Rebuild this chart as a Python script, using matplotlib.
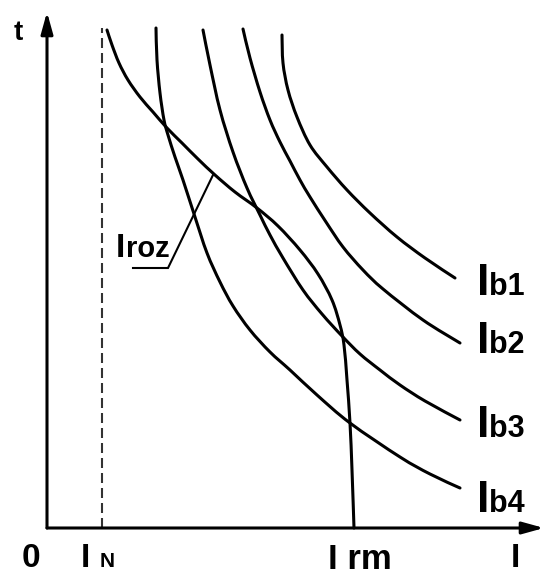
import matplotlib
matplotlib.use("Agg")
import matplotlib.pyplot as plt
from matplotlib.path import Path
from matplotlib.patches import PathPatch

# ---- data (current I vs time t, arbitrary units) ----
iroz_I = [60, 65, 72, 81, 93, 106, 120, 135, 151, 168, 188, 210, 231, 253, 271, 285, 293, 297, 300, 303, 305, 307]
iroz_t = [498, 483, 465, 448, 431, 416, 400, 385, 369, 353, 336, 320, 302, 278, 254, 228, 203, 183, 148, 105, 58, 0]

ib4_I = [109, 110, 113, 117, 121, 128, 136, 148, 160, 173, 186, 203, 223, 243, 270, 303, 353, 383, 413]
ib4_t = [500, 468, 435, 408, 393, 371, 348, 311, 275, 246, 222, 198, 176, 158, 133, 105, 71, 54, 40]

ib3_I = [156, 163, 173, 186, 200, 213, 223, 236, 256, 275, 295, 313, 333, 353, 378, 413]
ib3_t = [498, 463, 418, 376, 340, 313, 293, 270, 238, 214, 192, 174, 158, 143, 127, 108]

ib2_I = [196, 203, 213, 223, 233, 243, 253, 263, 279, 296, 316, 336, 376, 413]
ib2_t = [499, 470, 436, 408, 386, 367, 348, 331, 306, 281, 258, 239, 208, 185]

ib1_I = [235, 236, 241, 250, 263, 280, 300, 323, 350, 378, 408]
ib1_t = [493, 465, 438, 411, 383, 361, 338, 315, 291, 270, 250]

I_N = 55
I_N_top = 500

leader_I = [86, 121, 166]
leader_t = [260, 260, 353]

curve_labels = ["b1", "b2", "b3", "b4"]


def smooth_path(xs, ys):
    """Cubic Bezier path passing through the given points (Catmull-Rom)."""
    pts = list(zip(xs, ys))
    n = len(pts)
    verts = [pts[0]]
    codes = [Path.MOVETO]
    for i in range(n - 1):
        p0 = pts[i - 1] if i > 0 else pts[i]
        p1 = pts[i]
        p2 = pts[i + 1]
        p3 = pts[i + 2] if i + 2 < n else pts[i + 1]
        c1 = (p1[0] + (p2[0] - p0[0]) / 6.0, p1[1] + (p2[1] - p0[1]) / 6.0)
        c2 = (p2[0] - (p3[0] - p1[0]) / 6.0, p2[1] - (p3[1] - p1[1]) / 6.0)
        verts += [c1, c2, p2]
        codes += [Path.CURVE4] * 3
    return Path(verts, codes)


# ---- figure ----
fig = plt.figure(figsize=(5.45, 5.77), dpi=100)
ax = fig.add_axes([0, 0, 1, 1])
ax.set_xlim(-47, 498)
ax.set_ylim(-49, 528)
ax.axis("off")

LW = 2.2

# axes with arrows
for tip in [(0, 516), (497, 0)]:
    ax.annotate("", xy=tip, xytext=(0, 0),
                arrowprops=dict(arrowstyle="-|>,head_length=0.65,head_width=0.18",
                                lw=LW, color="black", mutation_scale=20,
                                shrinkA=0, shrinkB=0))

# dashed I_N line
ax.plot([I_N, I_N], [0, I_N_top], color="#333333", lw=1.5, dashes=(4.8, 2.4))

# curves
for xs, ys in [(iroz_I, iroz_t), (ib4_I, ib4_t), (ib3_I, ib3_t),
               (ib2_I, ib2_t), (ib1_I, ib1_t)]:
    ax.add_patch(PathPatch(smooth_path(xs, ys), facecolor="none",
                           edgecolor="black", lw=LW, capstyle="round",
                           joinstyle="round"))

# leader line for Iroz
ax.plot(leader_I, leader_t, color="black", lw=1.5, solid_joinstyle="miter")

fam = ["Liberation Sans", "DejaVu Sans"]
tk = dict(family=fam, weight="bold", color="black", va="baseline", ha="left")

# curve labels Ib1..Ib4
lab_base = [233, 175, 91, 16]
for lab, yb in zip(curve_labels, lab_base):
    ax.text(430, yb, "I", fontsize=32, **tk)
    ax.text(442, yb, lab, fontsize=22, **tk)

# Iroz label
ax.text(69, 271, "I", fontsize=24, **tk)
ax.text(79, 271, "roz", fontsize=21, **tk)

# axis labels
ax.text(-33, 488, "t", fontsize=20, **tk)
ax.text(-25, -39, "0", fontsize=24, **tk)
ax.text(34, -39, "I", fontsize=24, **tk)
ax.text(53, -39, "N", fontsize=15, **tk)
ax.text(281, -41, "I rm", fontsize=25, **tk)
ax.text(464, -39, "I", fontsize=24, **tk)

fig.savefig("out.png", dpi=100, facecolor="white")
